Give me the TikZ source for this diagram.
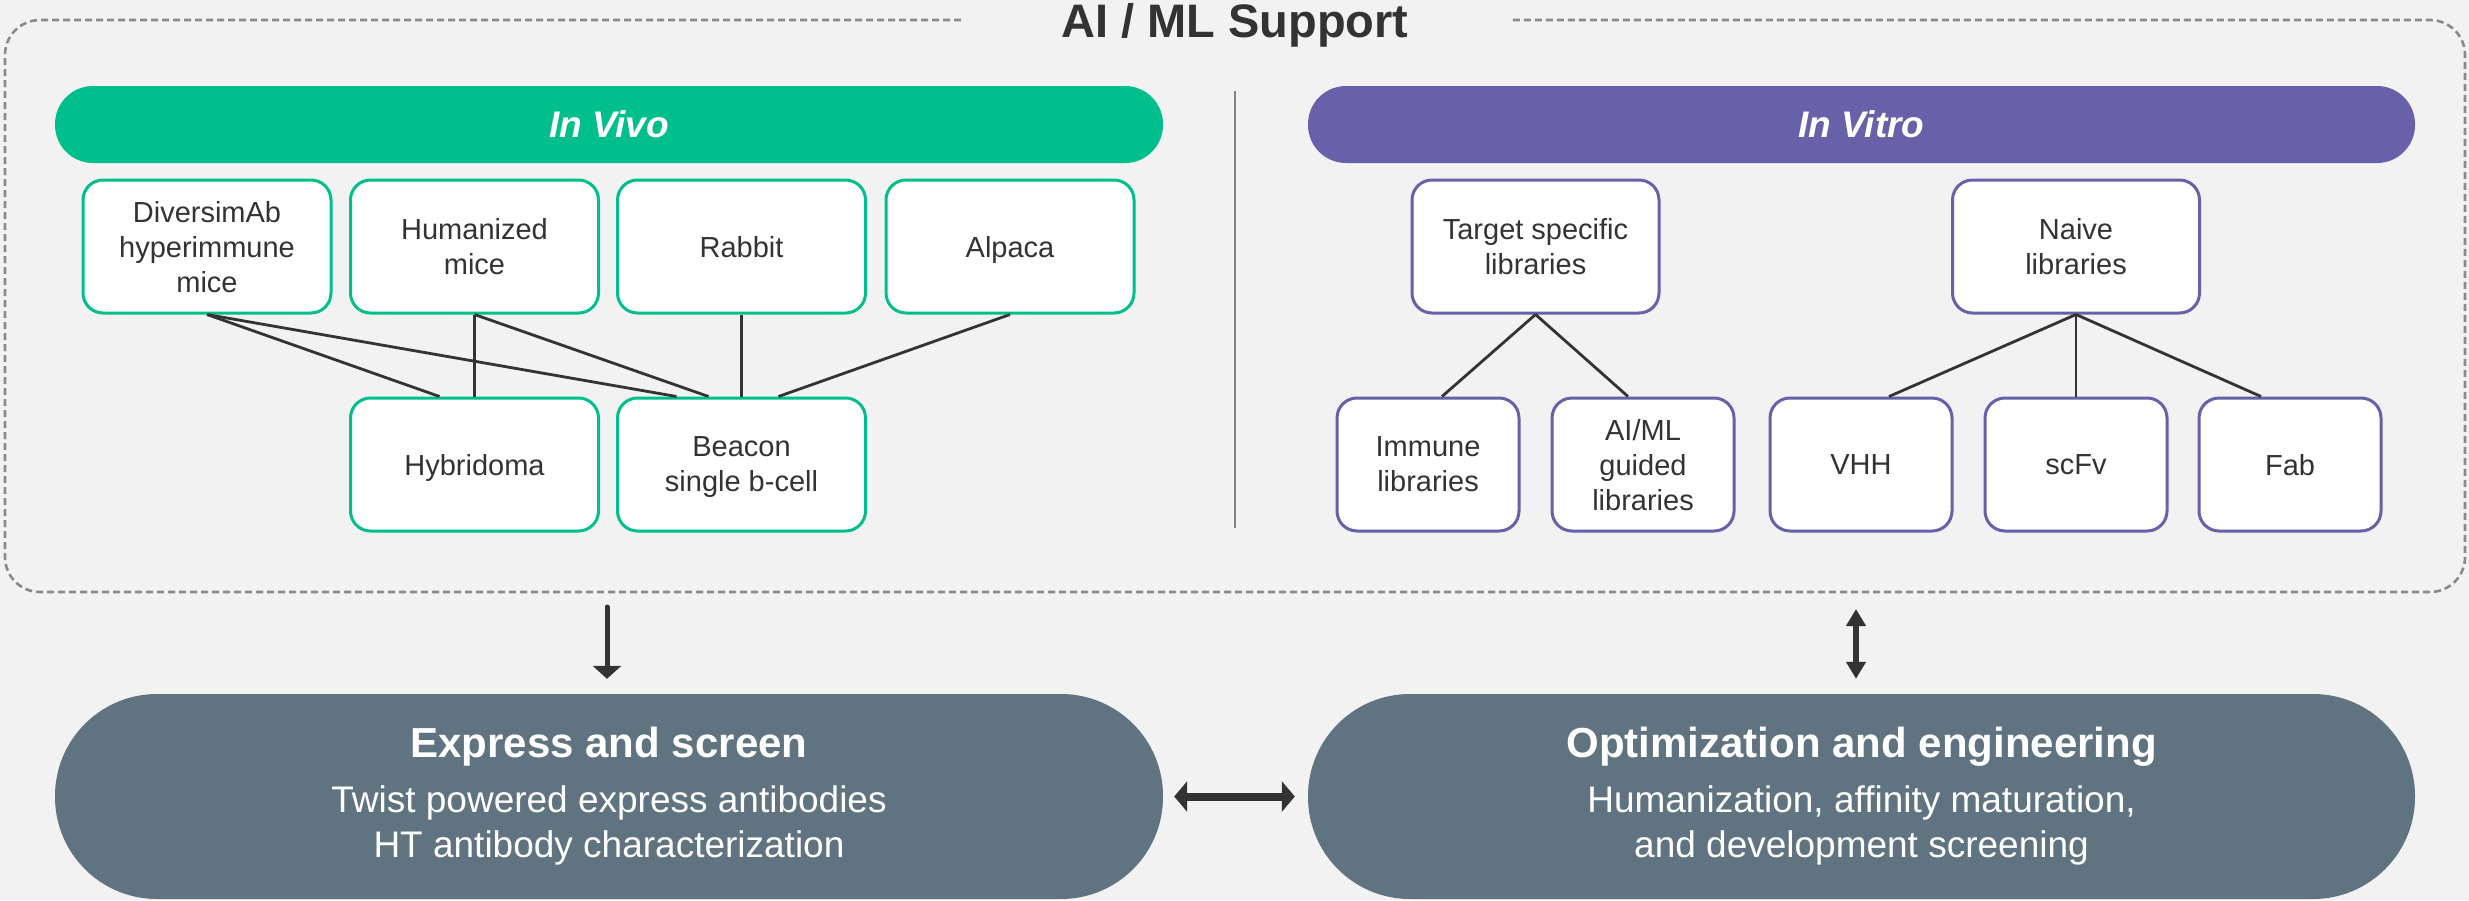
\documentclass[tikz,border=0pt]{standalone}
\usepackage{fontspec}
\setmainfont{Liberation Sans}
\usetikzlibrary{arrows.meta,calc}
\definecolor{bgc}{HTML}{F2F2F2}
\definecolor{grn}{HTML}{00BF8C}
\definecolor{pur}{HTML}{6661A8}
\definecolor{slate}{HTML}{5F7480}
\definecolor{ink}{HTML}{333333}
\definecolor{dashc}{HTML}{8A8A8A}
\definecolor{sepc}{HTML}{808080}
\begin{document}
\begin{tikzpicture}[x=1pt,y=-1pt,
  box/.style={draw, line width=3pt, fill=white, rounded corners=20pt, minimum height=133pt,
    align=center, text=ink, font=\fontsize{29}{35}\selectfont, inner sep=0pt, text depth=0pt},
  vivo/.style={box, draw=grn, minimum width=248pt},
  vitroA/.style={box, draw=pur, minimum width=247pt},
  vitroB/.style={box, draw=pur, minimum width=182pt},
  bar/.style={minimum width=1108pt, minimum height=77pt, rounded corners=38pt, inner sep=0pt,
    text=white, font=\bfseries\itshape\fontsize{37}{44}\selectfont},
  pill/.style={fill=slate, minimum width=1108pt, minimum height=205pt, rounded corners=102pt, inner sep=0pt},
  ptitle/.style={text=white, font=\bfseries\fontsize{42}{50}\selectfont, anchor=base, inner sep=0pt},
  psub/.style={text=white, font=\fontsize{37}{46}\selectfont, anchor=base, inner sep=0pt},
  link/.style={draw=ink, line width=2.8pt},
  frame/.style={draw=dashc, line width=2.6pt, dash pattern=on 7pt off 4pt, rounded corners=35pt},
  sepline/.style={draw=sepc, line width=2.5pt},
  arr/.style={draw=ink, fill=ink}
]
\fill[bgc] (0,0) rectangle (2469,900);
\useasboundingbox (0,0) rectangle (2469,900);

% dashed frame with title gap
\coordinate (fL) at (961,20);
\coordinate (fR) at (1510,20);
\draw[frame] (fL) -- (5,20) -- (5,592) -- (2465,592) -- (2465,20) -- (fR);
\node[font=\bfseries\fontsize{47}{56}\selectfont, text=ink, anchor=base, inner sep=0pt] (title) at (1235,37) {AI / ML Support};

% separator
\coordinate (sepT) at (1235,91);
\coordinate (sepB) at (1235,528);
\draw[sepline] (sepT) -- (sepB);

% bars
\node[bar, fill=grn] (invivo) at (609,124.5) {In Vivo};
\node[bar, fill=pur, minimum width=1107pt] (invitro) at (1861.5,124.5) {In Vitro};

% in vivo boxes
\node[vivo] (diversim) at (207,246.5) {DiversimAb\\hyperimmune\\mice};
\node[vivo] (humanized) at (474.5,246.5) {Humanized\\mice};
\node[vivo] (rabbit) at (741.5,246.5) {Rabbit};
\node[vivo] (alpaca) at (1010,246.5) {Alpaca};
\node[vivo] (hybridoma) at (474.5,464.5) {Hybridoma};
\node[vivo] (beacon) at (741.5,464.5) {Beacon\\single b-cell};

% in vitro boxes
\node[vitroA] (target) at (1535.5,246.5) {Target specific\\libraries};
\node[vitroA] (naive) at (2076,246.5) {Naive\\libraries};
\node[vitroB] (immune) at (1428,464.5) {Immune\\libraries};
\node[vitroB] (aiml) at (1643,464.5) {AI/ML\\guided\\libraries};
\node[vitroB] (vhh) at (1861,464.5) {VHH};
\node[vitroB] (scfv) at (2076,464.5) {scFv};
\node[vitroB] (fab) at (2290,464.5) {Fab};

% in vivo connectors
\draw[link] (diversim.south) -- ($(hybridoma.north)+(-35,0)$);
\draw[link] (diversim.south) -- ($(beacon.north)+(-65,0)$);
\draw[link] (humanized.south) -- (hybridoma.north);
\draw[link] (humanized.south) -- ($(beacon.north)+(-33,0)$);
\draw[link] (rabbit.south) -- (beacon.north);
\draw[link] (alpaca.south) -- ($(beacon.north)+(37,0)$);

% in vitro connectors
\draw[link] (target.south) -- ($(immune.north)+(14,0)$);
\draw[link] (target.south) -- ($(aiml.north)+(-15,0)$);
\draw[link] (naive.south) -- ($(vhh.north)+(28,0)$);
\draw[link] (naive.south) -- (scfv.north);
\draw[link] (naive.south) -- ($(fab.north)+(-29,0)$);

% bottom pills
\node[pill] (express) at (609,796.5) {};
\node[pill, minimum width=1107pt] (opt) at (1861.5,796.5) {};
\node[ptitle] (exT) at (609,757) {Express and screen};
\node[psub] (exS1) at (609,812) {Twist powered express antibodies};
\node[psub] (exS2) at (609,857) {HT antibody characterization};
\node[ptitle] (opT) at (1861.5,757) {Optimization and engineering};
\node[psub] (opS1) at (1861.5,812) {Humanization, affinity maturation,};
\node[psub] (opS2) at (1861.5,857) {and development screening};

% arrows
\coordinate (dnTop) at (607,607);
\draw[arr, line width=5pt, line cap=round, -{Triangle[width=28pt,length=13pt]}, shorten >=15pt]
  (dnTop) -- (dnTop |- express.north);
\draw[arr, line width=8pt, {Triangle[width=30pt,length=13pt]}-{Triangle[width=30pt,length=13pt]},
  shorten <=11pt, shorten >=13pt] (express.east) -- (opt.west);
\coordinate (upTop) at (1856,609);
\draw[arr, line width=6pt, {Triangle[width=19pt,length=17pt]}-{Triangle[width=19pt,length=17pt]},
  shorten >=15pt] (upTop) -- (upTop |- opt.north);
\end{tikzpicture}
\end{document}
